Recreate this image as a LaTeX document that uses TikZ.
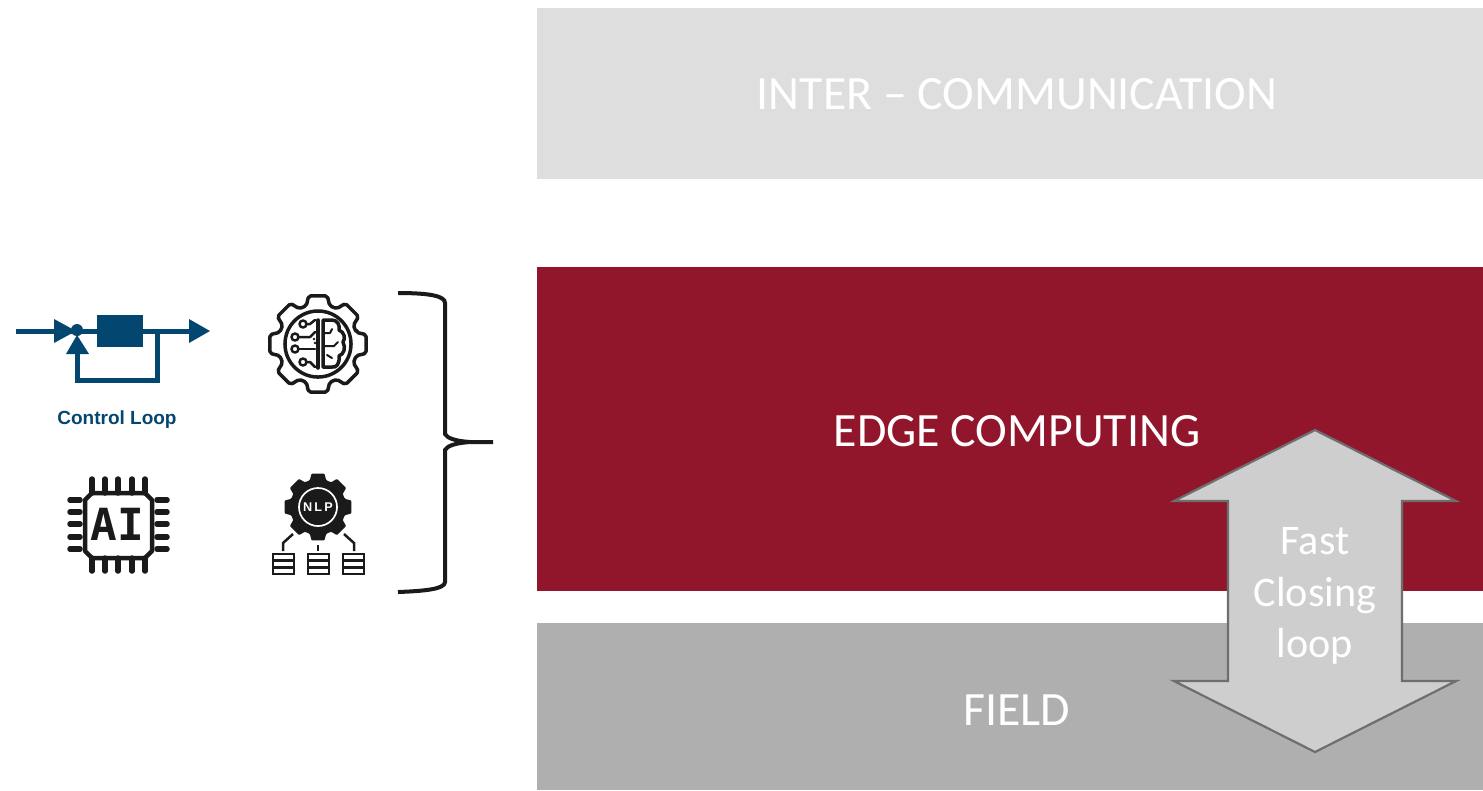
\documentclass[tikz,border=0pt]{standalone}
\usepackage{fontspec}
\setmainfont{Carlito}
\newfontfamily\iconfont{Liberation Sans}
\newfontfamily\chipfont{DejaVu Sans Mono}
\definecolor{bandlight}{HTML}{DEDEDE}
\definecolor{bandred}{HTML}{91162C}
\definecolor{bandgrey}{HTML}{AFAFAF}
\definecolor{loopfill}{HTML}{CECECE}
\definecolor{loopedge}{HTML}{6E6E6E}
\definecolor{loopblue}{HTML}{03466F}
\definecolor{iconblack}{HTML}{1A1A1A}
\tikzset{
	bandtext/.style={text=white,font=\fontsize{13.6}{14.7}\selectfont,inner sep=0pt,align=center},
	blueline/.style={draw=loopblue,line width=0.05cm},
	bluehead/.style={fill=loopblue},
	iconline/.style={draw=iconblack,line width=0.035cm,line cap=round,line join=round},
	chipline/.style={draw=iconblack,line width=0.055cm,line cap=round,line join=round},
	stackline/.style={draw=iconblack,line width=0.025cm},
}
\begin{document}
\begin{tikzpicture}[x=0.01cm,y=-0.01cm]
		\useasboundingbox (0,0) rectangle (1483,790);
		% bands
		\fill[bandlight] (537,8) rectangle (1483,179);
		\fill[bandred] (537,267) rectangle (1483,591);
		\fill[bandgrey] (537,623) rectangle (1483,790);
		\node[bandtext] (inter) at (1017,94) {INTER -- COMMUNICATION};
		\node[bandtext] (edge) at (1017,431) {EDGE COMPUTING};
		\node[bandtext] (field) at (1017,710) {FIELD};

		% double arrow
		\draw[draw=loopedge,fill=loopfill,line width=0.022cm] (1315,430) -- (1456,501) -- (1402,501) -- (1402,681) -- (1456,681) -- (1315,752) -- (1174,681) -- (1228,681) -- (1228,501) -- (1174,501) -- cycle;
		\node[bandtext,font=\fontsize{12}{14.7}\selectfont] (fastloop) at (1315,596) {Fast\\Closing\\loop};

		% brace
		\draw[draw=iconblack,line width=0.04cm] (398,293) .. controls (430,293) and (445,296) .. (445,303) -- (445,434) .. controls (447,438) and (455,441) .. (470,442) -- (493,442) -- (470,442) .. controls (455,443) and (447,446) .. (445,450) -- (445,582) .. controls (445,589) and (425,591) .. (398,592);

		% control loop icon
		\draw[blueline] (16,331) -- (190,331);
		\draw[blueline] (157,331) -- (157,380) -- (77,380) -- (77,350);
		\fill[bluehead] (54,319) -- (76,331) -- (54,343) -- cycle;
		\fill[bluehead] (77,330) circle (0.06cm);
		\fill[bluehead] (66,354) -- (77,335) -- (89,354) -- cycle;
		\fill[bluehead] (97,315) rectangle (143,347);
		\fill[bluehead] (189,319) -- (210,331) -- (189,343) -- cycle;
		\node[text=loopblue,font=\iconfont\bfseries\fontsize{5.4}{7}\selectfont,inner sep=0pt] (looplabel) at (117,420) {Control Loop};

		% brain gear icon
		\begin{scope}[shift={(318,344)}]
			\draw[iconline,rounded corners=0.02cm] (-17:40) \foreach \a in {0,45,...,315} { -- (\a-17:40) -- (\a-11:49) -- (\a+11:49) -- (\a+17:40)} -- cycle;
			\draw[iconline] (0,0) circle (0.33cm);
			\draw[iconline] (0,-24) -- (0,24);
			\draw[iconline] (5,-24) -- (14,-24) .. controls (20,-24) and (22,-18) .. (21,-14) .. controls (26,-12) and (28,-6) .. (25,-2) .. controls (28,4) and (26,10) .. (21,12) .. controls (22,20) and (18,24) .. (14,23) -- (5,23) -- cycle;
			\draw[iconline,line width=0.02cm] (5,-11) -- (12,-11) -- (14,-15);
			\draw[iconline,line width=0.02cm] (5,2) -- (16,2) -- (20,-2);
			\draw[iconline,line width=0.02cm] (9,11) -- (14,14);
			\foreach \px/\py in {-15/-20,-23/-7,-23/5,-15/18} {
				\draw[iconline,line width=0.025cm] (\px,\py) circle (0.035cm);
			}
			\draw[iconline,line width=0.025cm] (-11,-20) -- (-8,-20) -- (-3,-24);
			\draw[iconline,line width=0.025cm] (-19,-7) -- (-8,-7) -- (-3,-12);
			\draw[iconline,line width=0.025cm] (-19,5) -- (-3,5);
			\draw[iconline,line width=0.025cm] (-11,18) -- (-8,18) -- (-3,23);
			\fill[iconblack] (-4,-5) circle (0.013cm);
			\fill[iconblack] (-3,-1) circle (0.013cm);
		\end{scope}

		% AI chip icon
		\draw[chipline,line width=0.045cm] (92,493) -- (145,493) -- (152,500) -- (152,551) -- (145,558) -- (92,558) -- (85,551) -- (85,500) -- cycle;
		\foreach \px in {92,105,118,132,145} {
			\draw[chipline] (\px,479) -- (\px,493);
			\draw[chipline] (\px,558) -- (\px,571);
		}
		\foreach \py in {500,512,524,537,549} {
			\draw[chipline] (70,\py) -- (80,\py);
			\draw[chipline] (157,\py) -- (167,\py);
		}
		\node[text=iconblack,font=\chipfont\bfseries\fontsize{12.6}{14}\selectfont,inner sep=0pt] (chiplabel) at (117,524) {AI};

		% NLP gear icon
		\begin{scope}[shift={(318,507)}]
			\fill[iconblack,rounded corners=0.01cm] (-17:28) \foreach \a in {0,45,...,315} { -- (\a-17:28) -- (\a-11:34) -- (\a+11:34) -- (\a+17:28)} -- cycle;
			\draw[white,line width=0.017cm] (0,0) circle (0.19cm);
			\node[text=white,font=\iconfont\bfseries\fontsize{3.6}{4}\selectfont,inner sep=0pt] (nlplabel) at (0,0) {N\,L\,P};
		\end{scope}
		\draw[stackline] (293,534) -- (283,543) -- (283,551);
		\draw[stackline] (318,545) -- (318,551);
		\draw[stackline] (344,534) -- (354,543) -- (354,551);
		\foreach \px in {273,308,343} {
			\draw[stackline] (\px,554) rectangle (\px+21,574);
			\draw[stackline] (\px,560.7) -- (\px+21,560.7);
			\draw[stackline] (\px,567.3) -- (\px+21,567.3);
		}
	\end{tikzpicture}
\end{document}
